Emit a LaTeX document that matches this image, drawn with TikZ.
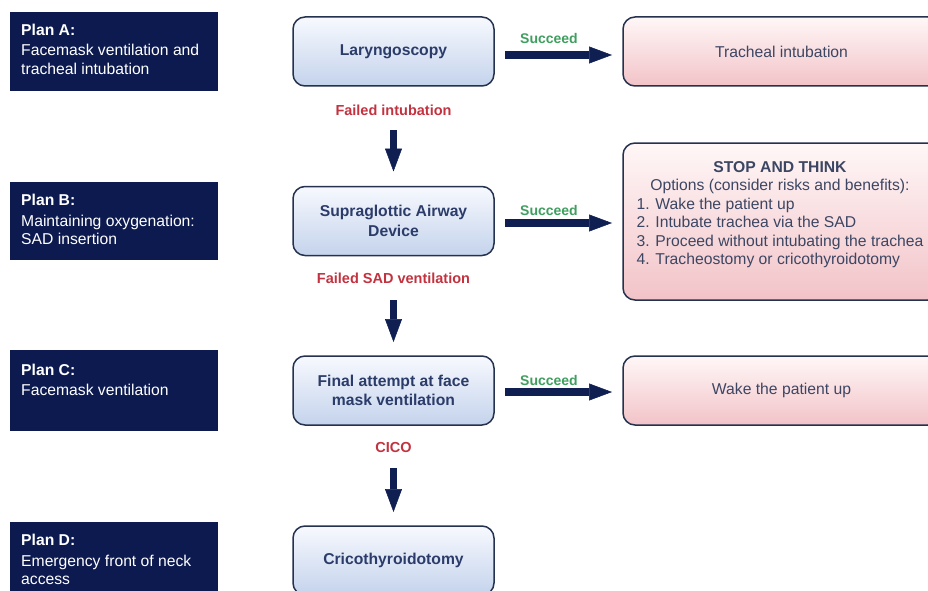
\documentclass[tikz,border=0pt]{standalone}
\usepackage{fontspec}
\setmainfont{Liberation Sans}
\usetikzlibrary{arrows.meta}
\definecolor{cNavy}{HTML}{0C1A4F}
\definecolor{cArrow}{HTML}{0F1F52}
\definecolor{cBoxLine}{HTML}{24324F}
\definecolor{cBoxText}{HTML}{2C3C6A}
\definecolor{cBlueTop}{HTML}{F7F9FE}
\definecolor{cBlueBot}{HTML}{C4D3EC}
\definecolor{cPinkTop}{HTML}{FFF7F7}
\definecolor{cPinkBot}{HTML}{F2C3C8}
\definecolor{cPinkText}{HTML}{3C4663}
\definecolor{cRed}{HTML}{C2323F}
\definecolor{cGreen}{HTML}{3E9F5E}
\tikzset{
  planbox/.style={fill=cNavy, draw=none, inner sep=0pt, outer sep=0pt,
    minimum width=208pt, anchor=north west},
  plantext/.style={text=white, align=left, inner sep=0pt, anchor=north west,
    font=\fontsize{15.7}{18.3}\selectfont},
  bluebox/.style={draw=cBoxLine, line width=1.5pt, rounded corners=12pt,
    top color=cBlueTop, bottom color=cBlueBot, minimum width=201pt,
    minimum height=69pt, inner sep=0pt, outer sep=0pt, align=center,
    text=cBoxText, font=\bfseries\fontsize{15.7}{19.5}\selectfont},
  pinkbox/.style={draw=cBoxLine, line width=1.5pt, rounded corners=12pt,
    top color=cPinkTop, bottom color=cPinkBot, minimum width=317pt,
    minimum height=69pt, inner sep=0pt, outer sep=0pt, align=center,
    text=cPinkText, font=\fontsize{15.7}{18.5}\selectfont},
  stoptext/.style={inner sep=0pt, text=cPinkText,
    font=\fontsize{15.7}{18.5}\selectfont},
  redlabel/.style={text=cRed, inner sep=0pt, font=\bfseries\fontsize{14.5}{17}\selectfont},
  greenlabel/.style={text=cGreen, inner sep=0pt, font=\bfseries\fontsize{14}{17}\selectfont},
  bigarrow/.style={draw=cArrow, line width=7.5pt,
    -{Triangle[length=23pt,width=17pt,line width=0.5pt]}}
}
\begin{document}
\begin{tikzpicture}[x=1pt,y=-1pt]
\useasboundingbox (0,0) rectangle (928,591);
% plan boxes
\node[planbox, minimum height=79pt] (pa) at (10,12) {};
\node[planbox, minimum height=78pt] (pb) at (10,182) {};
\node[planbox, minimum height=81pt] (pc) at (10,350) {};
\node[planbox, minimum height=80pt] (pd) at (10,522) {};
\node[plantext] (pat) at (21,23.6) {\textbf{Plan A:}\\[2.5pt]Facemask ventilation and\\tracheal intubation};
\node[plantext] (pbt) at (21,194.3) {\textbf{Plan B:}\\[2.5pt]Maintaining oxygenation:\\SAD insertion};
\node[plantext] (pct) at (21,363.6) {\textbf{Plan C:}\\[2.5pt]Facemask ventilation};
\node[plantext] (pdt) at (21,534.3) {\textbf{Plan D:}\\[2.5pt]Emergency front of neck\\access};
% centre column
\node[bluebox] (lar) at (393.5,51.5) {Laryngoscopy};
\node[bluebox] (sad) at (393.5,221) {Supraglottic Airway\\Device};
\node[bluebox] (fin) at (393.5,390.5) {Final attempt at face\\mask ventilation};
\node[bluebox] (cri) at (393.5,560.5) {Cricothyroidotomy};
% right column
\node[pinkbox] (tra) at (781.5,51.5) {Tracheal intubation};
\node[pinkbox, minimum height=157pt] (stop) at (781.5,221.5) {};
\node[stoptext] (stopt) at (780,215) {\begin{tabular}{@{}l@{}}
\multicolumn{1}{@{}c@{}}{\textbf{STOP AND THINK}}\\
\multicolumn{1}{@{}c@{}}{Options (consider risks and benefits):}\\
1. Wake the patient up\\
2. Intubate trachea via the SAD\\
3. Proceed without intubating the trachea\\
4. Tracheostomy or cricothyroidotomy
\end{tabular}};
\node[pinkbox] (wake) at (781.5,390.5) {Wake the patient up};
% labels
\node[redlabel] (l1) at (393.5,110) {Failed intubation};
\node[redlabel] (l2) at (393.5,278) {Failed SAD ventilation};
\node[redlabel] (l3) at (393.5,448) {CICO};
\node[greenlabel] (s1) at (549,38.5) {Succeed};
\node[greenlabel] (s2) at (549,210) {Succeed};
\node[greenlabel] (s3) at (549,380) {Succeed};
% vertical arrows
\draw[bigarrow, shorten <=14.5pt, shorten >=15pt] (l1) -- (sad);
\draw[bigarrow, shorten <=16.5pt, shorten >=14pt] (l2) -- (fin);
\draw[bigarrow, shorten <=14.5pt, shorten >=14pt] (l3) -- (cri);
% horizontal arrows
\draw[bigarrow, shorten <=11pt, shorten >=11pt] ([yshift=-3.5pt]lar.east) -- ([yshift=-3.5pt]lar.east -| tra.west);
\draw[bigarrow, shorten <=11pt, shorten >=11pt] ([yshift=-2pt]sad.east) -- ([yshift=-2pt]sad.east -| stop.west);
\draw[bigarrow, shorten <=11pt, shorten >=11pt] ([yshift=-1.5pt]fin.east) -- ([yshift=-1.5pt]fin.east -| wake.west);
\end{tikzpicture}
\end{document}
